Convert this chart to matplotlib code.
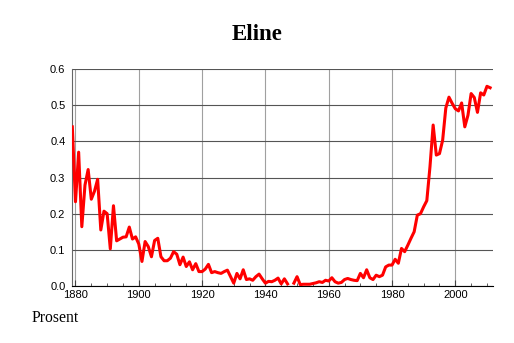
import matplotlib.pyplot as plt
import numpy as np
from matplotlib.ticker import MultipleLocator

# share of population named Eline, per year (percent)
YEARS = np.arange(1879, 2012)
SHARE = [
    0.44, 0.233, 0.37, 0.164, 0.279, 0.322, 0.24, 0.262, 0.295, 0.155,
    0.207, 0.2, 0.103, 0.222, 0.125, 0.13, 0.135, 0.136, 0.163, 0.13,
    0.136, 0.116, 0.068, 0.123, 0.109, 0.081, 0.126, 0.132, 0.081, 0.07,
    0.07, 0.077, 0.095, 0.088, 0.059, 0.08, 0.054, 0.067, 0.045, 0.062,
    0.04, 0.04, 0.047, 0.06, 0.037, 0.04, 0.037, 0.035, 0.04, 0.044,
    0.026, 0.008, 0.035, 0.02, 0.045, 0.018, 0.02, 0.016, 0.026, 0.033,
    0.02, 0.008, 0.013, 0.012, 0.016, 0.022, 0.006, 0.02, 0.006, np.nan,
    0.008, 0.026, 0.004, 0.005, 0.005, 0.005, 0.007, 0.009, 0.012, 0.01,
    0.016, 0.014, 0.023, 0.012, 0.008, 0.01, 0.018, 0.021, 0.018, 0.016,
    0.015, 0.035, 0.023, 0.045, 0.023, 0.018, 0.03, 0.026, 0.03, 0.053,
    0.058, 0.058, 0.074, 0.063, 0.104, 0.095, 0.113, 0.132, 0.15, 0.196,
    0.2, 0.219, 0.236, 0.33, 0.445, 0.362, 0.366, 0.403, 0.492, 0.522,
    0.505, 0.49, 0.484, 0.506, 0.44, 0.472, 0.532, 0.521, 0.48, 0.534,
    0.528, 0.552, 0.548,
]
TITLE = "Eline"
YLABEL = "Prosent"

fig = plt.figure(figsize=(5.14, 3.43), dpi=100)
ax = fig.add_axes([0.1407, 0.166, 0.819, 0.633])

ax.plot(YEARS, SHARE, color="#ff0000", linewidth=2.2, zorder=3)

ax.set_xlim(1879, 2012)
ax.set_ylim(0, 0.6)
ax.xaxis.set_major_locator(MultipleLocator(20))
ax.xaxis.set_minor_locator(MultipleLocator(5))
ax.yaxis.set_major_locator(MultipleLocator(0.1))
ax.yaxis.set_major_formatter(plt.FuncFormatter(lambda v, _: f"{v:.1f}"))

# horizontal grid darker than vertical
ax.grid(True, axis="y", color="#555555", linewidth=0.8)
ax.grid(True, axis="x", color="#a0a0a0", linewidth=0.8)
ax.set_axisbelow(True)

for side in ("top", "right"):
    ax.spines[side].set_visible(False)
ax.spines["left"].set_color("#666666")
ax.spines["bottom"].set_color("#000000")

ax.tick_params(axis="x", which="major", direction="in", length=4, pad=2.5,
               labelsize=8, color="#444444")
ax.tick_params(axis="x", which="minor", direction="in", length=2.5, color="#444444")
ax.tick_params(axis="y", which="major", length=0, pad=5, labelsize=8)
for lab in ax.get_xticklabels() + ax.get_yticklabels():
    lab.set_family("Liberation Sans")

fig.text(0.5, 1 - 34 / 343, TITLE, ha="center", va="center",
         family="Liberation Serif", weight="bold", fontsize=16.5)
fig.text(32 / 514, 1 - 318 / 343, YLABEL, ha="left", va="center",
         family="Liberation Serif", fontsize=11.3)

fig.savefig("out.png", dpi=100)
